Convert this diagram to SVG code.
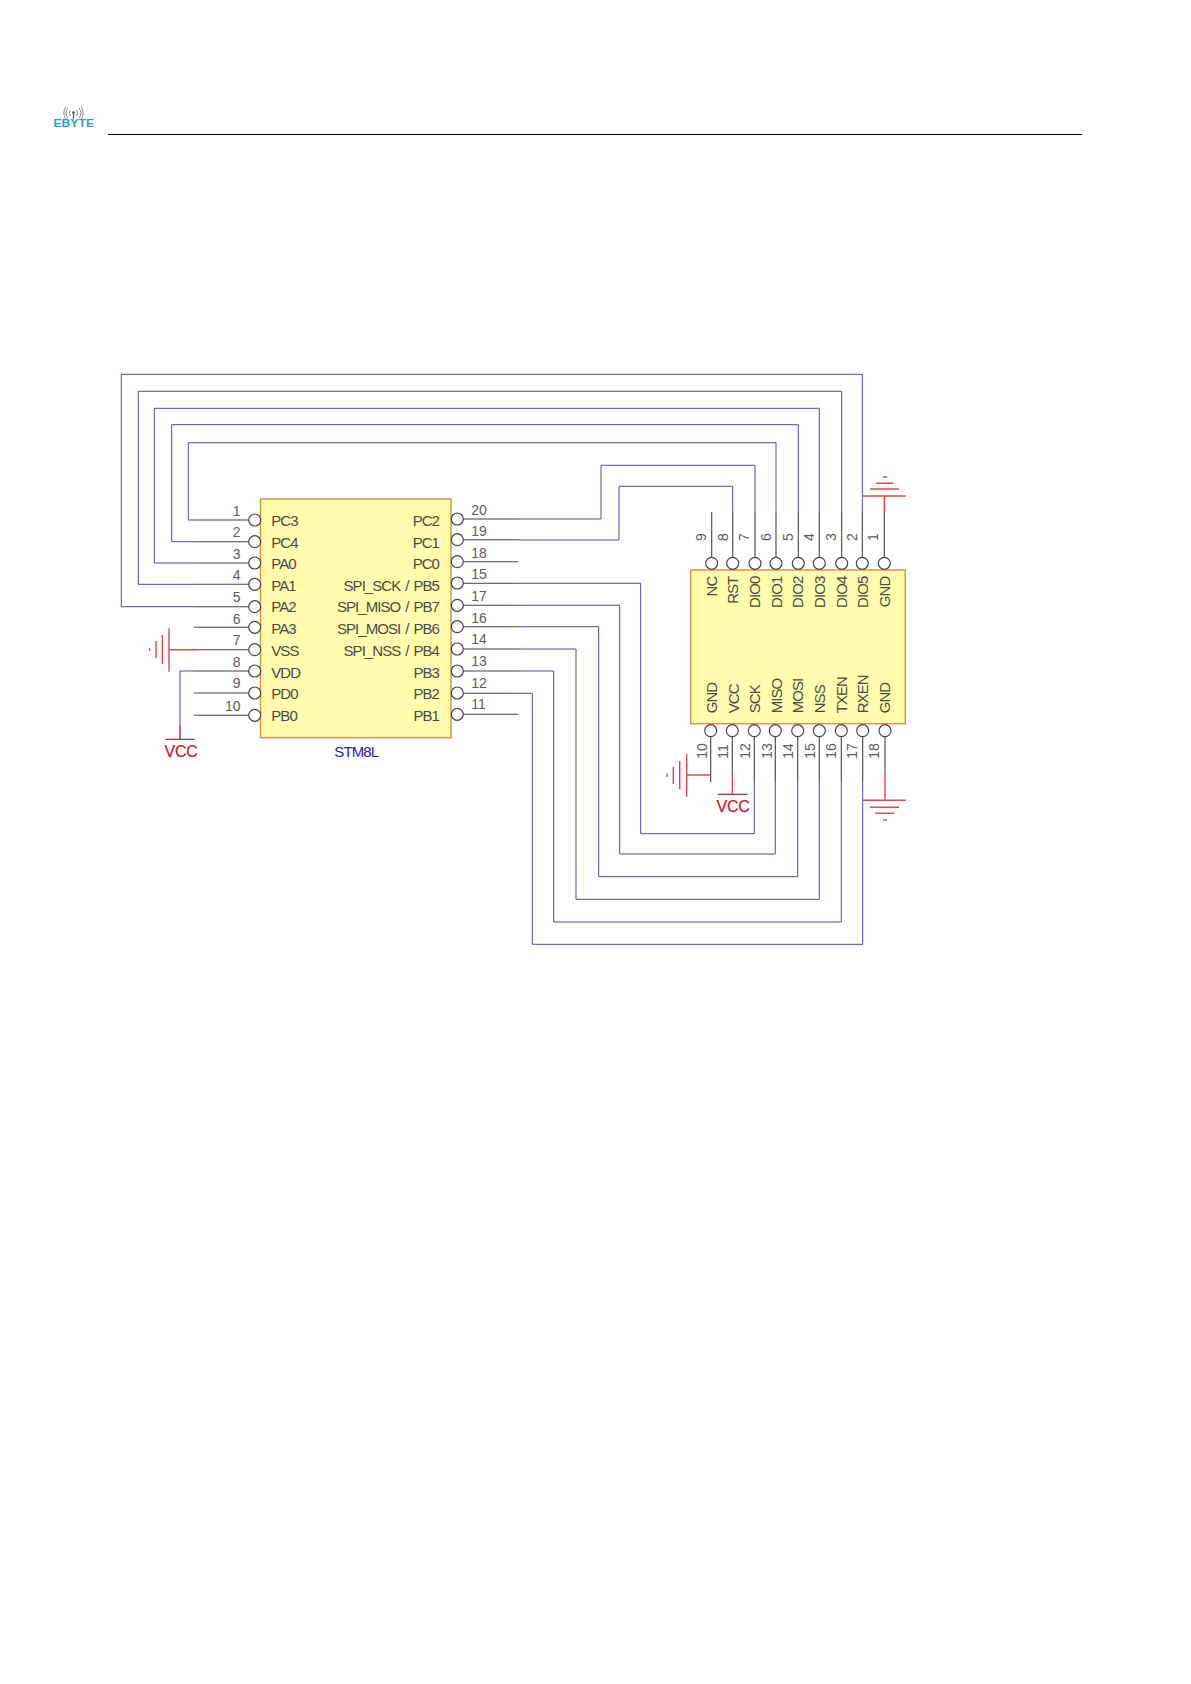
<svg xmlns="http://www.w3.org/2000/svg" width="1191" height="1684" viewBox="0 0 1191 1684">
<style>
text{font-family:"Liberation Sans",Arial,sans-serif}
.chip{fill:#fffcae;stroke:#d4964a;stroke-width:1.5}
.pin{fill:#fff;stroke:#444;stroke-width:1.2}
.lbl{font-size:15px;letter-spacing:-.95px;word-spacing:1.8px;fill:#4a4a4a}
.end{text-anchor:end}
.num{font-size:14px;fill:#5c5c5c}
.blue{fill:none;stroke:#4a4ab0;stroke-width:1}
.stub{fill:none;stroke:#444;stroke-width:1.1}
.red{fill:none;stroke:#e0484f;stroke-width:1.4}
.vcc{font-size:16px;letter-spacing:-.3px;fill:#c8202c;stroke:#c8202c;stroke-width:.25;text-anchor:middle}
</style>
<rect width="1191" height="1684" fill="#fff"/>
<g id="header">
<path d="M108 134.500H1082" stroke="#000" stroke-width="1" fill="none"/>
<g transform="translate(0 1.500)">
<g fill="none" stroke="#777" stroke-width=".9">
<path d="M70.500 108.500a4.500 4.500 0 0 0 0 6M76.500 108.500a4.500 4.500 0 0 1 0 6M68 106.500a8 8 0 0 0 0 10M79 106.500a8 8 0 0 1 0 10M66 105a11 11 0 0 0 0 13M81 105a11 11 0 0 1 0 13"/>
</g>
<circle cx="73.500" cy="111" r="1.200" fill="#444"/>
<path d="M73.500 112V118" stroke="#555" stroke-width="1.200"/>
</g>
<text x="53.500" y="126.700" font-size="10" font-weight="700" fill="#2a9fd0" textLength="40.500" lengthAdjust="spacingAndGlyphs">EBYTE</text>
</g>
<g id="connectors">
<g class="blue">
<path d="M194 520H188.300V442.700H776V512"/>
<path d="M194 541.700H171.700V424.700H798.300V512"/>
<path d="M194 563H154.300V408.300H819.300V512"/>
<path d="M194 584.300H138.300V391.300H841.700V512"/>
<path d="M194 606.700H121.300V374.300H862.300V512"/>
<path d="M519 519H601V465.300H755V512"/>
<path d="M519 540H619V486.300H732.700V512"/>
<path d="M519 583.300H640.700V833.700H754.300V782"/>
<path d="M519 605.300H619.700V854H775.300V782"/>
<path d="M519 626.700H598.700V876.700H797.700V782"/>
<path d="M519 649H576V899.300H819.300V782"/>
<path d="M519 671H553.700V922H841.300V782"/>
<path d="M519 693.300H532.300V944.300H862.700V782"/>
<path d="M194 671H180V739"/>
</g>
<g class="stub">
<path d="M194 520H249M194 541.700H249M194 563H249M194 584.300H249M194 606.700H249M194 627.300H249M197 649.700H249M194 671H249M194 693H249M194 715.300H249"/>
<path d="M463 519H519M463 539.700H519M463 561.700H518M463 583.300H519M463 605.300H519M463 626.700H519M463 649H519M463 671H519M463 693.300H519M463 714.300H518"/>
<path d="M711.700 512V557.300M732.700 512V557.300M755 512V557.300M776 512V557.300M798.300 512V557.300M819.300 512V557.300M841.700 512V557.300M862.300 512V557.300M884.300 512V557.300"/>
<path d="M710.700 737V782M732.300 737V773M754.300 737V782M775.300 737V782M797.700 737V782M819.300 737V782M841.300 737V782M862.700 737V782M885 737V773"/>
</g>
</g>
<g id="stm8l">
<rect class="chip" x="260.500" y="499" width="190.500" height="238.700"/>
<g class="pin">
<circle cx="254.700" cy="520" r="6"/><circle cx="254.700" cy="541.700" r="6"/><circle cx="254.700" cy="563" r="6"/><circle cx="254.700" cy="584.300" r="6"/><circle cx="254.700" cy="606.700" r="6"/><circle cx="254.700" cy="627.300" r="6"/><circle cx="254.700" cy="649.700" r="6"/><circle cx="254.700" cy="671" r="6"/><circle cx="254.700" cy="693" r="6"/><circle cx="254.700" cy="715.300" r="6"/>
<circle cx="457.300" cy="519" r="6"/><circle cx="457.300" cy="539.700" r="6"/><circle cx="457.300" cy="561.700" r="6"/><circle cx="457.300" cy="583" r="6"/><circle cx="457.300" cy="605.300" r="6"/><circle cx="457.300" cy="626.700" r="6"/><circle cx="457.300" cy="649" r="6"/><circle cx="457.300" cy="671" r="6"/><circle cx="457.300" cy="693" r="6"/><circle cx="457.300" cy="714.300" r="6"/>
</g>
<g class="lbl">
<text x="271.300" y="526">PC3</text><text x="271.300" y="547.700">PC4</text><text x="271.300" y="569.300">PA0</text><text x="271.300" y="591">PA1</text><text x="271.300" y="612.300">PA2</text><text x="271.300" y="634">PA3</text><text x="271.300" y="655.700">VSS</text><text x="271.300" y="677.700">VDD</text><text x="271.300" y="699.300">PD0</text><text x="271.300" y="720.700">PB0</text>
</g>
<g class="lbl end">
<text x="439" y="526">PC2</text><text x="439" y="547.700">PC1</text><text x="439" y="569.300">PC0</text><text x="439" y="591">SPI_SCK / PB5</text><text x="439" y="612.300">SPI_MISO / PB7</text><text x="439" y="634">SPI_MOSI / PB6</text><text x="439" y="655.700">SPI_NSS / PB4</text><text x="439" y="677.700">PB3</text><text x="439" y="699.300">PB2</text><text x="439" y="720.700">PB1</text>
</g>
<g class="num end">
<text x="240.500" y="516">1</text><text x="240.500" y="537.300">2</text><text x="240.500" y="558.700">3</text><text x="240.500" y="580">4</text><text x="240.500" y="601.700">5</text><text x="240.500" y="623.700">6</text><text x="240.500" y="645.300">7</text><text x="240.500" y="667">8</text><text x="240.500" y="688.300">9</text><text x="240.500" y="710.700">10</text>
</g>
<g class="num">
<text x="471.300" y="515">20</text><text x="471.300" y="536.300">19</text><text x="471.300" y="558">18</text><text x="471.300" y="579.300">15</text><text x="471.300" y="601.300">17</text><text x="471.300" y="622.700">16</text><text x="471.300" y="644.300">14</text><text x="471.300" y="666">13</text><text x="471.300" y="688">12</text><text x="471.300" y="709.300">11</text>
</g>
<text x="356.300" y="756.700" font-size="15" letter-spacing="-.9" fill="#2222a8" text-anchor="middle">STM8L</text>
</g>
<g id="module">
<rect class="chip" x="690.700" y="570" width="214.600" height="153.700"/>
<g class="pin">
<circle cx="711.700" cy="563.300" r="6"/><circle cx="732.700" cy="563.300" r="6"/><circle cx="755" cy="563.300" r="6"/><circle cx="776" cy="563.300" r="6"/><circle cx="798.300" cy="563.300" r="6"/><circle cx="819.300" cy="563.300" r="6"/><circle cx="841.700" cy="563.300" r="6"/><circle cx="862.300" cy="563.300" r="6"/><circle cx="884.300" cy="563.300" r="6"/>
<circle cx="710.700" cy="730.700" r="6"/><circle cx="732.300" cy="730.700" r="6"/><circle cx="754.300" cy="730.700" r="6"/><circle cx="775.300" cy="730.700" r="6"/><circle cx="797.700" cy="730.700" r="6"/><circle cx="819.300" cy="730.700" r="6"/><circle cx="841.300" cy="730.700" r="6"/><circle cx="862.700" cy="730.700" r="6"/><circle cx="885" cy="730.700" r="6"/>
</g>
<g class="lbl end">
<text transform="translate(717.300 576.700) rotate(-90)">NC</text><text transform="translate(738 576.700) rotate(-90)">RST</text><text transform="translate(760 576.700) rotate(-90)">DIO0</text><text transform="translate(781.700 576.700) rotate(-90)">DIO1</text><text transform="translate(803 576.700) rotate(-90)">DIO2</text><text transform="translate(825 576.700) rotate(-90)">DIO3</text><text transform="translate(847.300 576.700) rotate(-90)">DIO4</text><text transform="translate(868.300 576.700) rotate(-90)">DIO5</text><text transform="translate(890 576.700) rotate(-90)">GND</text>
</g>
<g class="lbl">
<text transform="translate(717 713.300) rotate(-90)">GND</text><text transform="translate(739 713.300) rotate(-90)">VCC</text><text transform="translate(760.300 713.300) rotate(-90)">SCK</text><text transform="translate(781.700 713.300) rotate(-90)">MISO</text><text transform="translate(803 713.300) rotate(-90)">MOSI</text><text transform="translate(824.700 713.300) rotate(-90)">NSS</text><text transform="translate(847 713.300) rotate(-90)">TXEN</text><text transform="translate(868.300 713.300) rotate(-90)">RXEN</text><text transform="translate(889.700 713.300) rotate(-90)">GND</text>
</g>
<g class="num">
<text transform="translate(706 541) rotate(-90)">9</text><text transform="translate(728 541) rotate(-90)">8</text><text transform="translate(749.300 541) rotate(-90)">7</text><text transform="translate(771.300 541) rotate(-90)">6</text><text transform="translate(793 541) rotate(-90)">5</text><text transform="translate(814 541) rotate(-90)">4</text><text transform="translate(835.700 541) rotate(-90)">3</text><text transform="translate(857.300 541) rotate(-90)">2</text><text transform="translate(878.300 541) rotate(-90)">1</text>
<text transform="translate(707.300 758.700) rotate(-90)">10</text><text transform="translate(728.300 758.700) rotate(-90)">11</text><text transform="translate(750 758.700) rotate(-90)">12</text><text transform="translate(771.700 758.700) rotate(-90)">13</text><text transform="translate(793.300 758.700) rotate(-90)">14</text><text transform="translate(814.700 758.700) rotate(-90)">15</text><text transform="translate(836 758.700) rotate(-90)">16</text><text transform="translate(857.300 758.700) rotate(-90)">17</text><text transform="translate(879.300 758.700) rotate(-90)">18</text>
</g>
</g>
<g id="gnd-left" class="red">
<path d="M169 649.700H197M169 628.300V671.700M162.300 635V664M156 641V658M149.500 648V651"/>
</g>
<g id="vcc-left">
<path class="red" d="M180 725V739.300" stroke-width="1.200"/>
<path d="M165.500 739.300H194.500" stroke="#b02030" stroke-width="1.200"/>
<text class="vcc" x="181" y="756.700">VCC</text>
</g>
<g id="gnd-top" class="red">
<path d="M884.300 496V512M863 496H905.700M870 489H899M876.300 483.300H893.300M883 477H887"/>
</g>
<g id="gnd-bottom" class="red">
<path d="M885 773V800.300M862.700 800.300H905.700M870 807.300H899M875 813.300H894M883 820H887"/>
</g>
<g id="gnd-module" class="red">
<path d="M686.700 775H710M686.700 754V796.700M679.700 761V789.300M673.300 766.700V784M667 773.500V777"/>
</g>
<g id="vcc-module">
<path class="red" d="M732.300 773V794.300" stroke-width="1.200"/>
<path d="M717.700 794.300H747.700" stroke="#b02030" stroke-width="1.200"/>
<text class="vcc" x="733" y="812.300">VCC</text>
</g>
</svg>
